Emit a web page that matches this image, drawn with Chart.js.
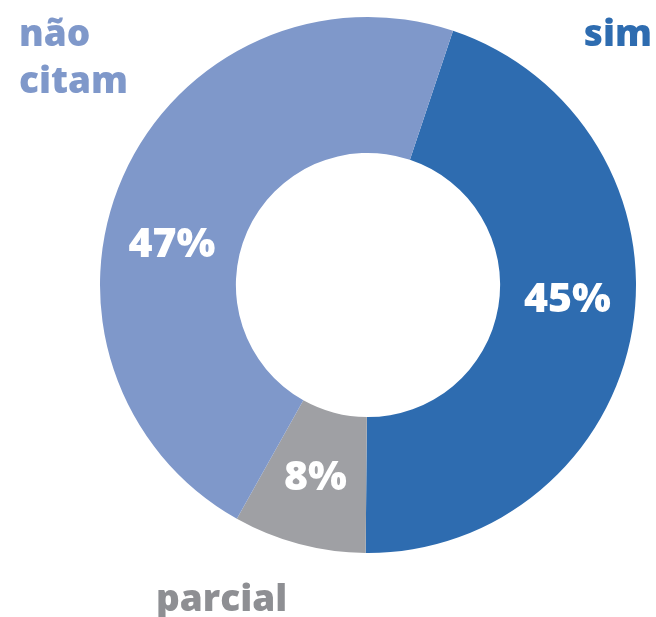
<!DOCTYPE html>
<html>
<head>
<meta charset="utf-8">
<script src="https://cdn.jsdelivr.net/npm/chart.js@4"></script>
<style>
  html, body { margin: 0; padding: 0; background: #fff; }
  #wrap { position: relative; width: 656px; height: 617px; }
</style>
</head>
<body>
<div id="wrap"><canvas id="donutChart"></canvas></div>
<script>
const categories = ['sim', 'parcial', 'não citam'];
const shares = [45, 8, 47];
const valueLabels = ['45%', '8%', '47%'];
const segmentColors = ['#2e6cb0', '#9fa0a4', '#7f98ca'];

// percent labels inside the ring, nudged a bit off the arc middle
const ringLabels = {
    id: 'ringLabels',
    afterDatasetsDraw(chart, args, opts) {
        const ctx = chart.ctx;
        const meta = chart.getDatasetMeta(0);
        ctx.save();
        ctx.fillStyle = '#ffffff';
        ctx.font = '800 41px "Open Sans"';
        ctx.textAlign = 'center';
        ctx.textBaseline = 'middle';
        meta.data.forEach((arc, i) => {
            const p = arc.getProps(['x', 'y', 'startAngle', 'endAngle', 'innerRadius', 'outerRadius'], true);
            const mid = (p.startAngle + p.endAngle) / 2 + opts.angleShift[i] * Math.PI / 180;
            const r = (p.innerRadius + p.outerRadius) / 2;
            ctx.fillText(valueLabels[i], p.x + Math.cos(mid) * r, p.y + Math.sin(mid) * r);
        });
        ctx.restore();
    }
};

// category names around the ring
const cornerLabels = {
    id: 'cornerLabels',
    afterDraw(chart) {
        const ctx = chart.ctx;
        ctx.save();
        ctx.font = '800 37px "Open Sans"';
        ctx.textBaseline = 'alphabetic';

        ctx.fillStyle = segmentColors[0];
        ctx.textAlign = 'right';
        ctx.fillText(categories[0], 652, 46);

        ctx.fillStyle = segmentColors[2];
        ctx.textAlign = 'left';
        const parts = categories[2].split(' ');
        ctx.fillText(parts[0], 19, 46);
        ctx.fillText(parts[1], 19, 93);

        ctx.fillStyle = '#8e8f93';
        ctx.textAlign = 'left';
        ctx.fillText(categories[1], 156, 611);
        ctx.restore();
    }
};

new Chart(document.getElementById('donutChart'), {
    type: 'doughnut',
    data: {
        labels: categories,
        datasets: [{
            data: shares,
            backgroundColor: segmentColors,
            borderWidth: 0,
            hoverOffset: 0
        }]
    },
    options: {
        responsive: true,
        maintainAspectRatio: false,
        animation: false,
        rotation: 18.5,
        cutout: '49.3%',
        layout: {
            padding: { left: 100, right: 20, top: 17, bottom: 64 }
        },
        plugins: {
            legend: { display: false },
            tooltip: { enabled: false },
            ringLabels: { angleShift: [-5.2, 0.3, -12.4] }
        }
    },
    plugins: [ringLabels, cornerLabels]
});
</script>
</body>
</html>
